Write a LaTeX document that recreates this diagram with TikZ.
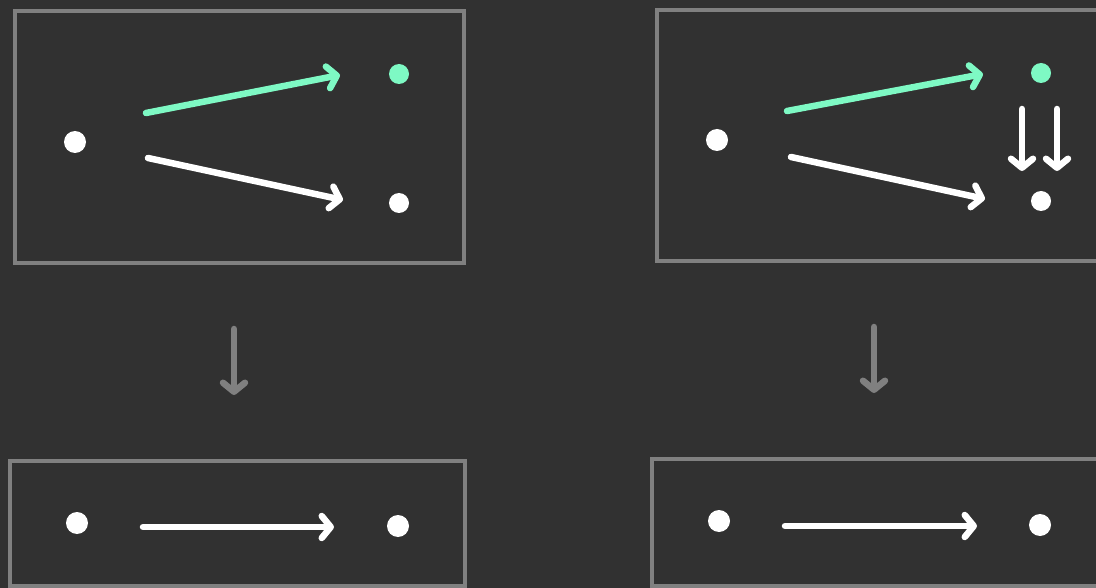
\documentclass[tikz,border=0pt]{standalone}
\usetikzlibrary{arrows.meta}
\definecolor{bg}{HTML}{313131}
\definecolor{frame}{HTML}{808080}
\definecolor{mint}{HTML}{7EF9C4}
\tikzset{
  panel/.style={draw=frame, line width=4.5pt},
  dot/.style={circle, fill=white, inner sep=0pt, minimum size=#1},
  gdot/.style={circle, fill=mint, inner sep=0pt, minimum size=#1},
  arr/.style={line width=6.5pt, line cap=round, -{Straight Barb[round,length=9pt,width=22pt]}},
  warr/.style={arr, draw=white},
  garr/.style={arr, draw=mint},
  farr/.style={arr, draw=frame},
}
\begin{document}
\begin{tikzpicture}[x=1pt,y=-1pt]
\fill[bg] (0,0) rectangle (1096,588);
\useasboundingbox (0,0) rectangle (1096,588);
% panels
\draw[panel] (15,11) rectangle (464,263);
\draw[panel] (657,10) rectangle (1110,261);
\draw[panel] (10,461) rectangle (465,586);
\draw[panel] (652,459) rectangle (1110,586);
% panel 1
\node[dot=22pt] (a1) at (75,142) {};
\node[gdot=20pt] (b1) at (399,74) {};
\node[dot=20pt] (c1) at (399,203) {};
\coordinate (a1g) at (146,113); \coordinate (b1g) at (340,75);
\coordinate (a1w) at (148,158); \coordinate (c1w) at (343,200);
\draw[garr] (a1g) -- (b1g);
\draw[warr] (a1w) -- (c1w);
% panel 2
\node[dot=22pt] (a2) at (717,140) {};
\node[gdot=20pt] (b2) at (1041,73) {};
\node[dot=20pt] (c2) at (1041,201) {};
\coordinate (a2g) at (787,111); \coordinate (b2g) at (983,74);
\coordinate (a2w) at (791,157); \coordinate (c2w) at (985,199);
\draw[garr] (a2g) -- (b2g);
\draw[warr] (a2w) -- (c2w);
\coordinate (d1s) at (1022,109); \coordinate (d1e) at (1022,171);
\coordinate (d2s) at (1057,109); \coordinate (d2e) at (1057,171);
\draw[warr] (d1s) -- (d1e);
\draw[warr] (d2s) -- (d2e);
% gray down arrows
\coordinate (g1s) at (234,329); \coordinate (g1e) at (234,395);
\coordinate (g2s) at (874,327); \coordinate (g2e) at (874,393);
\draw[farr] (g1s) -- (g1e);
\draw[farr] (g2s) -- (g2e);
% panel 3
\node[dot=22pt] (a3) at (77,523) {};
\node[dot=22pt] (b3) at (398,526) {};
\coordinate (a3s) at (143,527); \coordinate (b3e) at (334,527);
\draw[warr] (a3s) -- (b3e);
% panel 4
\node[dot=22pt] (a4) at (719,521) {};
\node[dot=22pt] (b4) at (1040,525) {};
\coordinate (a4s) at (785,526); \coordinate (b4e) at (977,526);
\draw[warr] (a4s) -- (b4e);
\end{tikzpicture}
\end{document}
